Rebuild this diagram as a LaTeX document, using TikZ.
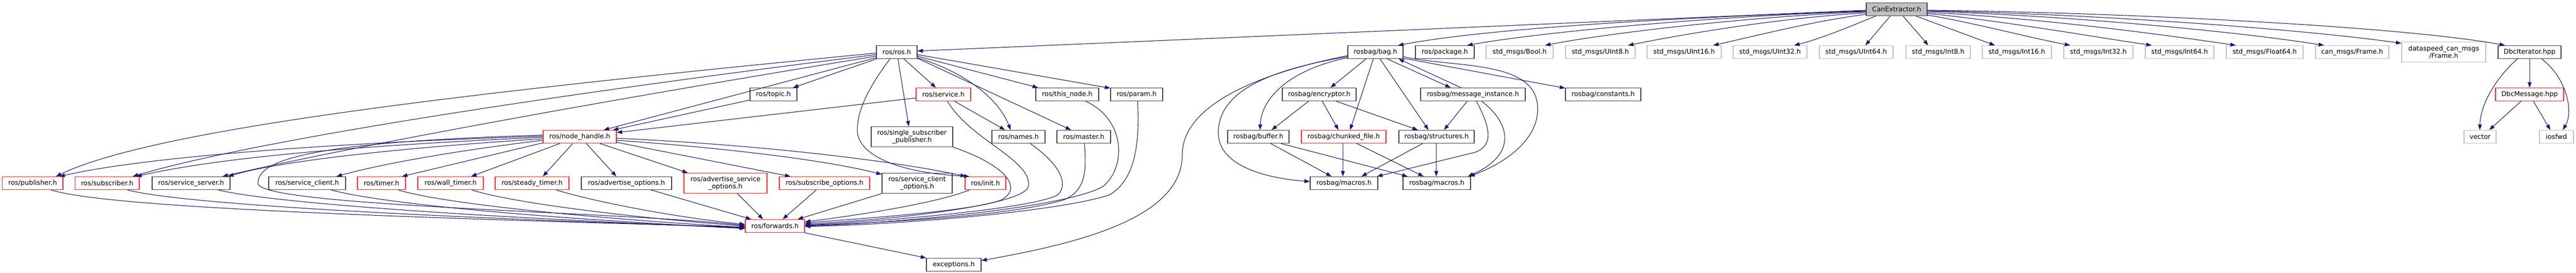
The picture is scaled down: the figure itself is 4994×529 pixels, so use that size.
\documentclass[tikz,border=0pt]{standalone}
\usepackage{fontspec}
\setmainfont{DejaVu Sans}
\usetikzlibrary{arrows.meta}
\definecolor{edgec}{HTML}{191970}
\definecolor{bk}{HTML}{404040}
\definecolor{rd}{HTML}{FF2020}
\definecolor{gy}{HTML}{BFBFBF}
\begin{document}
\begin{tikzpicture}[x=1pt,y=1pt,
  box/.style={draw, line width=1.3pt, inner sep=0pt, minimum height=25pt, align=center,
    font=\fontsize{12.8}{14.5}\selectfont, text=black},
  blk/.style={box, draw=bk},
  trunc/.style={box, draw=rd},
  ext/.style={box, draw=gy},
  cenode/.style={box, draw=bk, fill=gy},
  tall/.style={minimum height=39pt},
  e/.style={draw=edgec, line width=1.1pt, -{Triangle[length=10.5pt,width=7.5pt]}}]
\useasboundingbox (0,0) rectangle (4994,-529);
% nodes
\node[cenode,minimum width=118pt] (ce) at (3677,-18) {CanExtractor.h};
% row 1
\node[blk,minimum width=79pt] (ros) at (1738.5,-101) {ros/ros.h};
\node[blk,minimum width=107pt] (bag) at (2666.5,-101) {rosbag/bag.h};
\node[blk,minimum width=114pt] (package) at (2801,-101) {ros/package.h};
\node[ext,minimum width=130pt] (bool) at (2946,-101) {std\_msgs/Bool.h};
\node[ext,minimum width=135pt] (uint8) at (3102.5,-101) {std\_msgs/UInt8.h};
\node[ext,minimum width=144pt] (uint16) at (3265,-101) {std\_msgs/UInt16.h};
\node[ext,minimum width=143pt] (uint32) at (3431.5,-101) {std\_msgs/UInt32.h};
\node[ext,minimum width=143pt] (uint64) at (3598.5,-101) {std\_msgs/UInt64.h};
\node[ext,minimum width=125pt] (int8) at (3757.5,-101) {std\_msgs/Int8.h};
\node[ext,minimum width=134pt] (int16) at (3910,-101) {std\_msgs/Int16.h};
\node[ext,minimum width=134pt] (int32) at (4068,-101) {std\_msgs/Int32.h};
\node[ext,minimum width=133pt] (int64) at (4225.5,-101) {std\_msgs/Int64.h};
\node[ext,minimum width=149pt] (float64) at (4390.5,-101) {std\_msgs/Float64.h};
\node[ext,minimum width=142pt] (canframe) at (4560,-101) {can\_msgs/Frame.h};
\node[ext,tall,minimum width=163pt] (dsframe) at (4737.5,-101) {dataspeed\_can\_msgs\\/Frame.h};
\node[blk,minimum width=122pt] (dbcit) at (4904,-101) {DbcIterator.hpp};
% row 2
\node[blk,minimum width=91pt] (topic) at (1499.5,-183) {ros/topic.h};
\node[trunc,minimum width=106pt] (service) at (1829,-183) {ros/service.h};
\node[blk,minimum width=122pt] (thisnode) at (2069,-183) {ros/this\_node.h};
\node[blk,minimum width=101pt] (param) at (2203.5,-183) {ros/param.h};
\node[blk,minimum width=143pt] (encryptor) at (2557.5,-183) {rosbag/encryptor.h};
\node[blk,minimum width=203pt] (msginst) at (2855.5,-183) {rosbag/message\_instance.h};
\node[blk,minimum width=146pt] (constants) at (3108,-183) {rosbag/constants.h};
\node[trunc,minimum width=132pt] (dbcmsg) at (4904,-183) {DbcMessage.hpp};
% row 3
\node[trunc,minimum width=142pt] (nh) at (1124,-265) {ros/node\_handle.h};
\node[blk,tall,minimum width=158pt] (ssp) at (1768,-265) {ros/single\_subscriber\\\_publisher.h};
\node[blk,minimum width=103pt] (names) at (1974.5,-265) {ros/names.h};
\node[blk,minimum width=104pt] (master) at (2101,-265) {ros/master.h};
\node[blk,minimum width=119pt] (buffer) at (2439.5,-265) {rosbag/buffer.h};
\node[trunc,minimum width=164pt] (chunked) at (2605,-265) {rosbag/chunked\_file.h};
\node[blk,minimum width=146pt] (structures) at (2785,-265) {rosbag/structures.h};
\node[ext,minimum width=62pt] (vector) at (4808,-265) {vector};
\node[ext,minimum width=66pt] (iosfwd) at (4956,-265) {iosfwd};
% row 4
\node[trunc,minimum width=117.5pt] (pub) at (63.25,-355) {ros/publisher.h};
\node[trunc,minimum width=124.5pt] (sub) at (207.75,-355) {ros/subscriber.h};
\node[blk,minimum width=151pt] (ssrv) at (370.5,-355) {ros/service\_server.h};
\node[blk,minimum width=149pt] (scli) at (595.5,-355) {ros/service\_client.h};
\node[trunc,minimum width=93pt] (timer) at (739.5,-355) {ros/timer.h};
\node[trunc,minimum width=127pt] (wtimer) at (873.5,-355) {ros/wall\_timer.h};
\node[trunc,minimum width=143pt] (stimer) at (1031.5,-355) {ros/steady\_timer.h};
\node[blk,minimum width=175pt] (advopt) at (1214.5,-355) {ros/advertise\_options.h};
\node[trunc,tall,minimum width=161pt] (advsrv) at (1406.5,-355) {ros/advertise\_service\\\_options.h};
\node[trunc,minimum width=175pt] (subopt) at (1598.5,-355) {ros/subscribe\_options.h};
\node[blk,tall,minimum width=136pt] (scliopt) at (1778,-355) {ros/service\_client\\\_options.h};
\node[trunc,minimum width=79pt] (init) at (1910.5,-355) {ros/init.h};
\node[blk,minimum width=131pt] (macrosA) at (2605.5,-355) {rosbag/macros.h};
\node[blk,minimum width=131pt] (macrosB) at (2785.5,-355) {rosbag/macros.h};
% rows 5,6
\node[trunc,minimum width=115pt] (fwd) at (1502.5,-438) {ros/forwards.h};
\node[blk,minimum width=106pt] (exc) at (1849,-513) {exceptions.h};

% CanExtractor edges
\draw[e] ([yshift=-15]ce.north west) -- ([yshift=-11]ros.north east);
\draw[e] ([yshift=-16]ce.north west) .. controls (3300,-33) and (2908,-51) .. ([xshift=98]bag.north west);
\draw[e] ([yshift=-17]ce.north west) .. controls (3350,-30) and (3000,-60) .. ([xshift=101]package.north west);
\draw[e] ([yshift=-18]ce.north west) .. controls (3400,-32) and (3130,-62) .. ([xshift=115]bool.north west);
\draw[e] ([yshift=-20]ce.north west) .. controls (3450,-35) and (3270,-65) .. ([xshift=122]uint8.north west);
\draw[e] ([yshift=-23]ce.north west) .. controls (3520,-40) and (3410,-68) .. ([xshift=129]uint16.north west);
\draw[e] ([xshift=19]ce.south west) .. controls (3590,-50) and (3530,-75) .. ([xshift=119]uint32.north west);
\draw[e] ([xshift=47]ce.south west) -- ([xshift=90]uint64.north west);
\draw[e] ([xshift=72]ce.south west) -- ([xshift=44]int8.north west);
\draw[e] ([xshift=97]ce.south west) -- ([xshift=25]int16.north west);
\draw[e] ([yshift=2]ce.south east) .. controls (3830,-45) and (3930,-72) .. ([xshift=13]int32.north west);
\draw[e] ([yshift=5]ce.south east) .. controls (3880,-40) and (4050,-70) .. ([xshift=13]int64.north west);
\draw[e] ([yshift=-19]ce.north east) .. controls (3950,-35) and (4180,-65) .. ([xshift=19]float64.north west);
\draw[e] ([yshift=-17]ce.north east) .. controls (4000,-30) and (4330,-60) .. ([xshift=17]canframe.north west);
\draw[e] ([yshift=-16]ce.north east) .. controls (4050,-27) and (4450,-55) .. ([yshift=-3]dsframe.north west);
\draw[e] ([yshift=-15]ce.north east) .. controls (4100,-24) and (4650,-50) .. ([xshift=14]dbcit.north west);
% Dbc edges
\draw[e] (dbcit.south) -- (dbcmsg.north);
\draw[e] ([xshift=38]dbcit.south west) .. controls (4840,-150) and (4809,-200) .. ([xshift=31]vector.north west);
\draw[e] ([xshift=85]dbcit.south west) .. controls (4975,-150) and (4990,-215) .. ([xshift=46]iosfwd.north west);
\draw[e] ([xshift=50]dbcmsg.south west) -- ([xshift=49.5]vector.north west);
\draw[e] ([xshift=74]dbcmsg.south west) -- ([xshift=22]iosfwd.north west);
% ros.h edges
\draw[e] ([xshift=1]ros.south west) -- ([xshift=84]topic.north west);
\draw[e] ([xshift=54]ros.south west) -- ([xshift=39]service.north west);
\draw[e] ([xshift=42.5]ros.south west) -- ([xshift=73.5]ssp.north west);
\draw[e] ([xshift=27]ros.south west) .. controls (1695,-155) and (1662,-205) .. (1662,-252) .. controls (1662,-300) and (1740,-335) .. ([xshift=9]init.north west);
\draw[e] ([yshift=-24]ros.north east) .. controls (1870,-140) and (1935,-190) .. ([xshift=37]names.north west);
\draw[e] ([yshift=-21]ros.north east) -- ([xshift=5]thisnode.north west);
\draw[e] ([yshift=-25]ros.north east) -- ([xshift=28]master.north west);
\draw[e] ([yshift=-18]ros.north east) -- ([yshift=-1]param.north west);
\draw[e] ([yshift=-24]ros.north west) -- ([xshift=118]nh.north west);
\draw[e] ([yshift=-24]topic.north west) -- ([xshift=136]nh.north west);
\draw[e] ([yshift=-20]service.north west) -- ([yshift=-5]nh.north east);
\draw[e] ([xshift=75]service.south west) -- ([xshift=26]names.north west);
\draw[e] ([yshift=-15]ros.north west) .. controls (900,-180) and (300,-250) .. ([xshift=104.5]pub.north west);
\draw[e] ([yshift=-18]ros.north west) .. controls (1100,-180) and (500,-270) .. ([xshift=112.5]sub.north west);
\draw[e] ([yshift=-21]ros.north west) .. controls (1200,-190) and (700,-280) .. ([xshift=137]ssrv.north west);
% node_handle edges
\draw[e] ([yshift=-12]nh.north west) .. controls (700,-275) and (300,-300) .. ([xshift=111.5]pub.north west);
\draw[e] ([yshift=-14]nh.north west) .. controls (750,-280) and (450,-300) .. ([xshift=119.5]sub.north west);
\draw[e] ([yshift=-17]nh.north west) .. controls (800,-285) and (550,-310) .. ([xshift=148]ssrv.north west);
\draw[e] ([yshift=-20]nh.north west) .. controls (900,-290) and (750,-315) .. ([xshift=132]scli.north west);
\draw[e] ([yshift=-25]nh.north west) -- ([xshift=87]timer.north west);
\draw[e] ([xshift=33]nh.south west) -- ([xshift=104]wtimer.north west);
\draw[e] ([xshift=58]nh.south west) -- ([xshift=93]stimer.north west);
\draw[e] ([xshift=84.5]nh.south west) -- ([xshift=68.5]advopt.north west);
\draw[e] ([xshift=111]nh.south west) -- ([xshift=8]advsrv.north west);
\draw[e] ([yshift=-24]nh.north east) -- ([xshift=22]subopt.north west);
\draw[e] ([yshift=-20]nh.north east) .. controls (1450,-290) and (1620,-315) .. ([yshift=-3]scliopt.north west);
\draw[e] ([yshift=-16]nh.north east) .. controls (1500,-282) and (1750,-315) .. ([xshift=2]init.north west);
\draw[e] ([yshift=-10]nh.north west) .. controls (600,-275) and (500,-310) .. (500,-355) .. controls (500,-400) and (1200,-410) .. ([yshift=-12]fwd.north west);
% into forwards
\draw[e] ([xshift=95.5]pub.south west) .. controls (200,-400) and (700,-420) .. ([yshift=-15]fwd.north west);
\draw[e] ([xshift=102.5]sub.south west) .. controls (350,-395) and (800,-420) .. ([yshift=-16]fwd.north west);
\draw[e] ([xshift=129]ssrv.south west) .. controls (520,-392) and (900,-420) .. ([yshift=-17]fwd.north west);
\draw[e] ([xshift=122]scli.south west) .. controls (730,-392) and (1000,-420) .. ([yshift=-18]fwd.north west);
\draw[e] ([xshift=80]timer.south west) .. controls (850,-392) and (1100,-420) .. ([yshift=-16]fwd.north west);
\draw[e] ([xshift=106]wtimer.south west) .. controls (980,-390) and (1200,-420) .. ([yshift=-13]fwd.north west);
\draw[e] ([xshift=119]stimer.south west) .. controls (1150,-390) and (1300,-420) .. ([yshift=-10]fwd.north west);
\draw[e] ([xshift=136]advopt.south west) -- ([xshift=12]fwd.north west);
\draw[e] ([xshift=104]advsrv.south west) -- ([xshift=35]fwd.north west);
\draw[e] ([xshift=72]subopt.south west) -- ([xshift=73]fwd.north west);
\draw[e] (scliopt.south west) -- ([xshift=102]fwd.north west);
\draw[e] ([xshift=9]init.south west) .. controls (1820,-392) and (1680,-415) .. ([yshift=-5]fwd.north east);
\draw[e] (ssp.south east) .. controls (1950,-320) and (1985,-365) .. (1940,-388) .. controls (1880,-410) and (1650,-425) .. ([yshift=-7]fwd.north east);
\draw[e] ([xshift=61.5]service.south west) .. controls (1880,-270) and (2000,-310) .. (1994,-360) .. controls (1990,-400) and (1700,-428) .. ([yshift=-9]fwd.north east);
\draw[e] ([xshift=75]names.south west) .. controls (2050,-315) and (2075,-355) .. (2050,-378) .. controls (2000,-405) and (1700,-430) .. ([yshift=-11]fwd.north east);
\draw[e] ([xshift=54]master.south west) .. controls (2105,-320) and (2110,-370) .. (2060,-388) .. controls (1950,-420) and (1700,-432) .. ([yshift=-12]fwd.north east);
\draw[e] ([xshift=97]thisnode.south west) .. controls (2180,-230) and (2185,-320) .. (2140,-360) .. controls (2080,-400) and (1750,-432) .. ([yshift=-13]fwd.north east);
\draw[e] ([xshift=53]param.south west) .. controls (2210,-280) and (2200,-350) .. (2150,-378) .. controls (2050,-410) and (1750,-435) .. ([yshift=-14]fwd.north east);
\draw[e] (fwd.south east) -- (exc.north west);
% rosbag edges
\draw[e] ([yshift=-20]bag.north west) .. controls (2450,-140) and (2292,-200) .. (2292,-300) .. controls (2292,-420) and (2100,-470) .. ([yshift=-5]exc.north east);
\draw[e] ([yshift=-22]bag.north west) .. controls (2430,-140) and (2360,-190) .. (2362,-260) .. controls (2364,-320) and (2450,-345) .. ([yshift=-10]macrosA.north west);
\draw[e] ([yshift=-24]bag.north west) .. controls (2500,-135) and (2445,-190) .. ([xshift=63.5]buffer.north west);
\draw[e] ([xshift=36]bag.south west) -- ([xshift=94]encryptor.north west);
\draw[e] ([xshift=50]bag.south west) -- ([xshift=95]chunked.north west);
\draw[e] ([xshift=63]bag.south west) -- ([xshift=58]structures.north west);
\draw[e] ([xshift=77]bag.south west) -- ([xshift=59]msginst.north west);
\draw[e] ([xshift=79]msginst.north west) -- ([xshift=99]bag.south west);
\draw[e] ([yshift=-25]bag.north east) -- ([yshift=-1]constants.north west);
\draw[e] ([yshift=-22]bag.north east) .. controls (2820,-132) and (2980,-115) .. (2981,-210) .. controls (2982,-270) and (2920,-315) .. ([xshift=-3]macrosB.north east);
\draw[e] ([xshift=91]msginst.south west) -- ([xshift=88]structures.north west);
\draw[e] ([xshift=109]msginst.south west) .. controls (2885,-240) and (2900,-280) .. (2860,-295) -- ([xshift=-2]macrosA.north east);
\draw[e] ([xshift=119]msginst.south west) .. controls (2930,-240) and (2940,-300) .. ([xshift=-6]macrosB.north east);
\draw[e] ([xshift=51.5]encryptor.south west) -- ([xshift=86]buffer.north west);
\draw[e] ([xshift=78]encryptor.south west) -- ([xshift=72.5]chunked.north west);
\draw[e] ([xshift=105]encryptor.south west) -- ([xshift=37.5]structures.north west);
\draw[e] ([xshift=84]buffer.south west) -- ([xshift=42]macrosA.north west);
\draw[e] ([xshift=104]buffer.south west) -- ([xshift=9.5]macrosB.north west);
\draw[e] ([xshift=81]chunked.south west) -- ([xshift=64]macrosA.north west);
\draw[e] ([xshift=108]chunked.south west) -- ([xshift=40.5]macrosB.north west);
\draw[e] ([xshift=46.5]structures.south west) -- ([xshift=100]macrosA.north west);
\draw[e] ([xshift=73]structures.south west) -- ([xshift=65]macrosB.north west);
\end{tikzpicture}
\end{document}
